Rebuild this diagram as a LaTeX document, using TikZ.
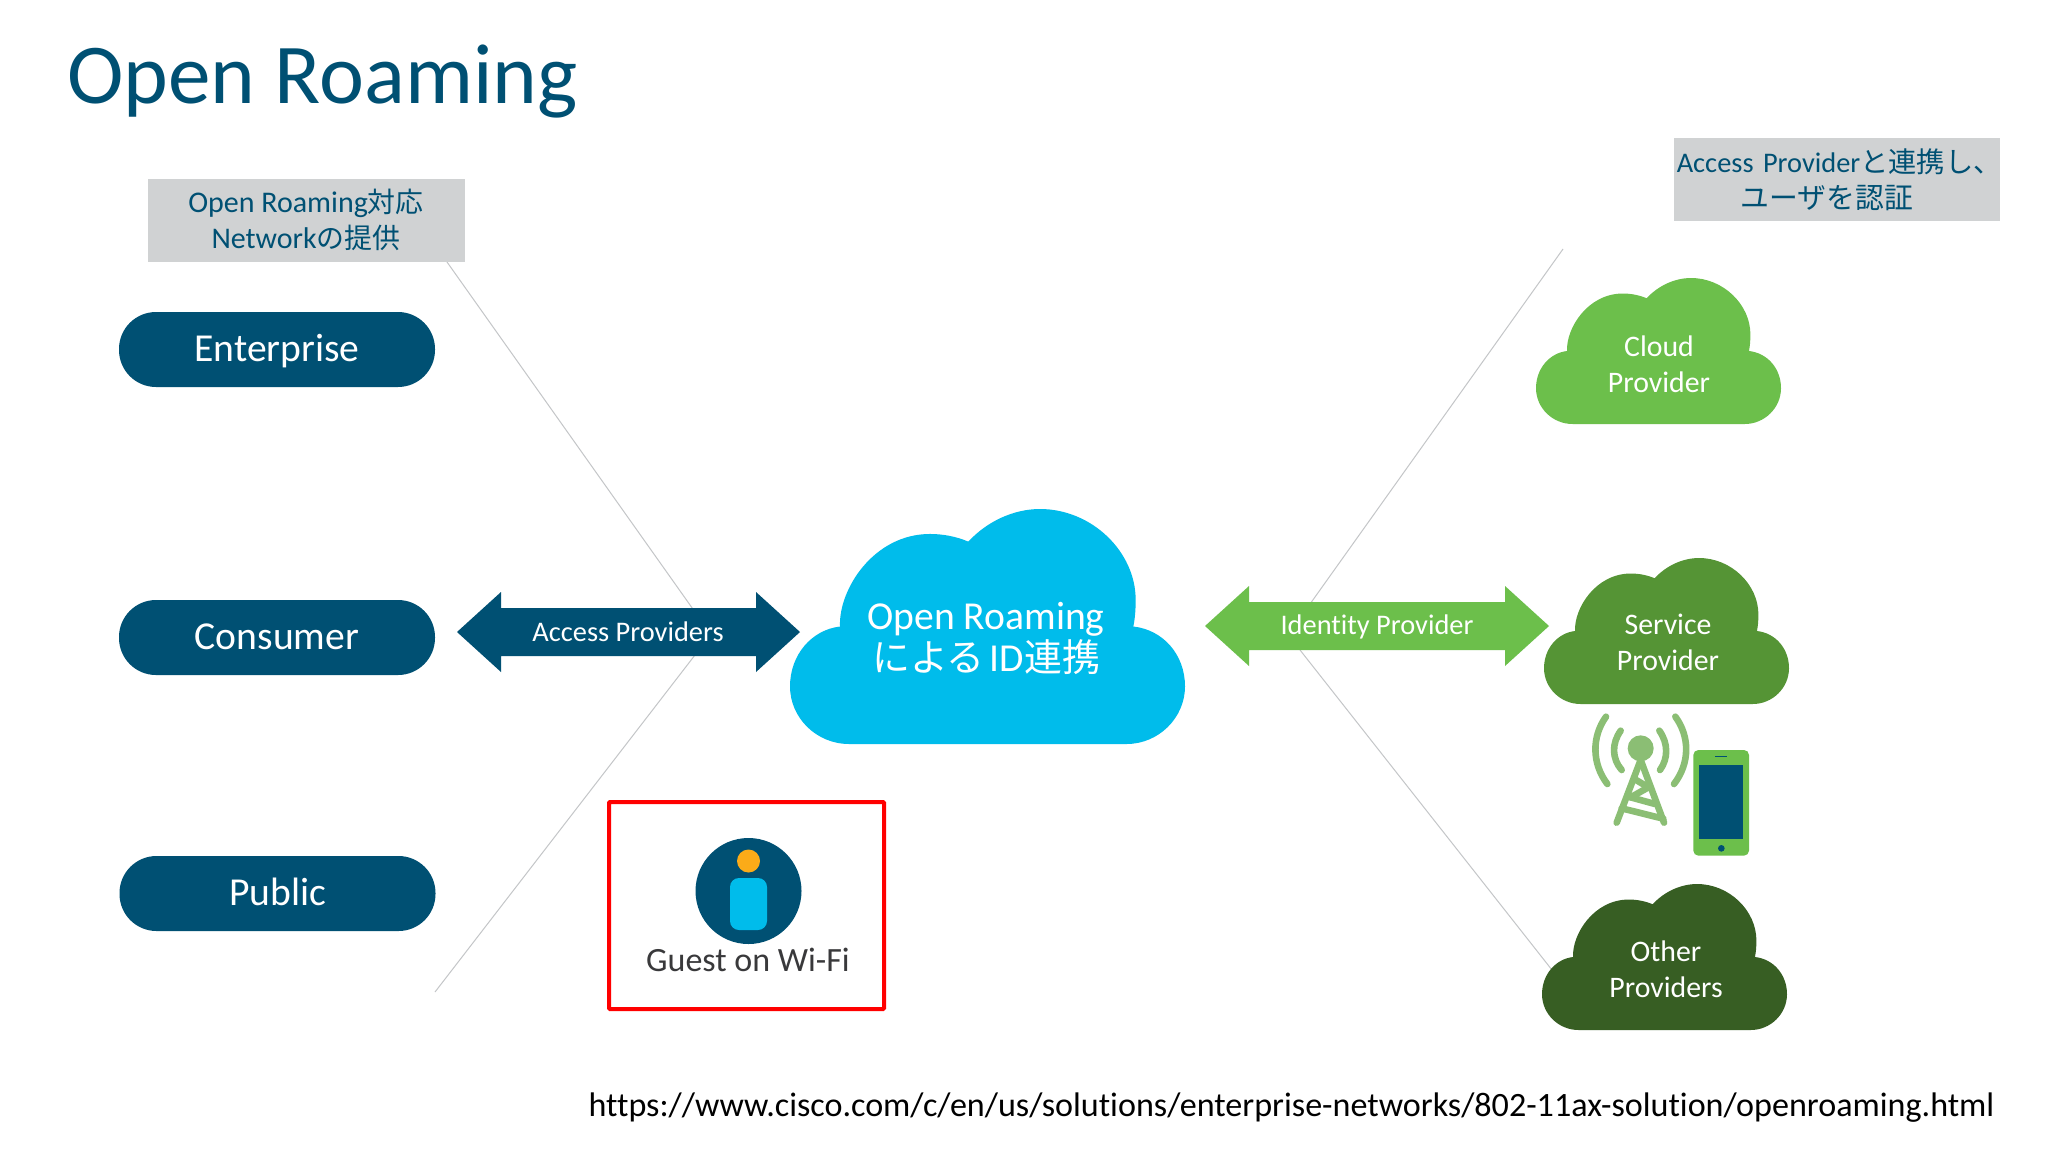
\documentclass[tikz,border=0pt]{standalone}
\usepackage{fontspec}
\setmainfont{Carlito}[Ligatures=CommonOff]
\newfontfamily\cjk{Noto Sans CJK JP}[Scale=0.93]
\definecolor{navy}{HTML}{005073}
\definecolor{sky}{HTML}{00BCEB}
\definecolor{lime}{HTML}{6CBF4B}
\definecolor{leaf}{HTML}{559435}
\definecolor{forest}{HTML}{375E23}
\definecolor{towergreen}{HTML}{8BBE74}
\definecolor{notegray}{HTML}{D0D2D3}
\definecolor{hairline}{HTML}{C4C6C8}
\definecolor{amber}{HTML}{FBAB18}
\definecolor{inkgray}{HTML}{39393B}
\newcommand{\cloudpath}{(237,763) .. controls (140,763) and (60,685) .. (60,590)
 .. controls (60,495) and (125,420) .. (210,410)
 .. controls (205,300) and (310,132) .. (480,132)
 .. controls (520,132) and (560,140) .. (595,155)
 .. controls (650,95) and (730,57) .. (810,57)
 .. controls (965,57) and (1097,185) .. (1097,330)
 .. controls (1097,360) and (1095,385) .. (1090,410)
 .. controls (1180,420) and (1245,495) .. (1245,590)
 .. controls (1245,685) and (1165,763) .. (1070,763) -- cycle}
% #1 left, #2 top, #3 width, #4 height, #5 colour
\newcommand{\cloudat}[5]{\begin{scope}[shift={(#1,#2)},xscale=#3/1185,yscale=#4/706,shift={(-60,-57)}]
 \fill[#5] \cloudpath;\end{scope}}
% #1 left tip, #2 right tip, #3 centre y, #4 colour
\newcommand{\dblarrow}[4]{\fill[#4] (#1,#3) -- ({#1+44},{#3-40}) -- ({#1+44},{#3-24}) -- ({#2-44},{#3-24}) -- ({#2-44},{#3-40}) -- (#2,#3) -- ({#2-44},{#3+40}) -- ({#2-44},{#3+24}) -- ({#1+44},{#3+24}) -- ({#1+44},{#3+40}) -- cycle;}
\tikzset{
 pill/.style={fill=navy,rounded corners=18.5pt,minimum width=158pt,minimum height=37.5pt,text=white,font=\fontsize{19.8}{20}\selectfont,inner sep=0pt,text height=15pt,text depth=3pt},
 note/.style={fill=notegray,text=navy,align=center,minimum width=158.5pt,minimum height=41.5pt,inner sep=0pt,font=\fontsize{15}{18}\selectfont},
 cloudtext/.style={text=white,align=center,inner sep=0pt,font=\fontsize{14.9}{18}\selectfont},
 arrowtext/.style={text=white,inner sep=0pt,font=\fontsize{14.2}{15}\selectfont},
 bracket/.style={draw=hairline,line width=0.5pt},
 towerline/.style={draw=towergreen,line width=3.3pt,line cap=round}
}
\begin{document}
\begin{tikzpicture}[x=0.5pt,y=-0.5pt]
\useasboundingbox (0,0) rectangle (2048,1152);
\fill[white] (0,0) rectangle (2048,1152);
\node[anchor=west,inner sep=0pt,text=navy,font=\fontsize{42.6}{44}\selectfont] (title) at (67,82) {Open Roaming};
% bracket lines
\coordinate (lt) at (447,262); \coordinate (lm1) at (695,612); \coordinate (lm2) at (695,655); \coordinate (lb) at (435,992);
\coordinate (rt) at (1563,249); \coordinate (rm1) at (1310,604); \coordinate (rm2) at (1300,650); \coordinate (rb) at (1552,970);
\draw[bracket] (lt) -- (lm1);
\draw[bracket] (lm2) -- (lb);
\draw[bracket] (rt) -- (rm1);
\draw[bracket] (rm2) -- (rb);
% notes
\node[note] (note1) at (306,220) {Open Roaming{\cjk 対応}\\Network{\cjk の提供}};
\node[note,text width=163pt,font=\fontsize{14.2}{18}\selectfont] (note2) at (1837,179.5) {\makebox[163pt]{\kern2.2pt Access Provider{\fontsize{15.2}{18}\selectfont\cjk と連携し、}}\\{\fontsize{15.5}{18}\selectfont\cjk ユーザを認証}\kern10.4pt};
% pills
\node[pill] (ent) at (277,349.5) {Enterprise};
\node[pill] (con) at (277,637.5) {Consumer};
\node[pill] (pub) at (277.5,893.5) {Public};
% arrows
\dblarrow{457}{800}{632}{navy}
\dblarrow{1205}{1549}{626}{lime}
\node[arrowtext] (ap) at (628,632) {Access Providers};
\node[arrowtext] (ip) at (1377,627) {Identity Provider};
% clouds
\cloudat{790}{509}{395}{235}{sky}
\node[text=white,align=center,inner sep=0pt,font=\fontsize{19.8}{21}\selectfont] (main) at (986,638) {Open Roaming\\{\fontsize{20.4}{21}\selectfont\cjk による}\hspace{-2pt} ID{\fontsize{20.4}{21}\selectfont\cjk 連携}};
\cloudat{1536}{278}{245}{146}{lime}
\node[cloudtext] (cp) at (1659,364) {Cloud\\Provider};
\cloudat{1544}{558}{245}{146}{leaf}
\node[cloudtext] (sp) at (1668,642) {Service\\Provider};
\cloudat{1542}{884}{245}{146}{forest}
\node[cloudtext] (op) at (1666,969) {Other\\Providers};
% tower and phone
\begin{scope}[shift={(1500,680)},x=0.5pt/3,y=-0.5pt/3]
 \draw[towerline] (318,110) .. controls (275,170) and (275,250) .. (322,312);
 \draw[towerline] (362,152) .. controls (335,190) and (335,235) .. (365,270);
 \draw[towerline] (526,110) .. controls (570,170) and (570,250) .. (522,312);
 \draw[towerline] (478,152) .. controls (505,190) and (505,235) .. (480,270);
 \draw[towerline] (422,240) -- (350,428);
 \draw[towerline] (422,240) -- (492,428);
 \draw[towerline] (365,385) -- (490,416);
 \draw[towerline] (465,372) -- (392,352);
 \draw[towerline] (392,352) -- (445,322);
 \draw[towerline] (445,322) -- (405,298);
 \fill[towergreen] (422,205) circle[radius=39];
 \fill[lime,rounded corners=2.5pt] (580,210) rectangle (747,527);
 \fill[navy] (596,256) rectangle (730,476);
 \draw[navy,line width=0.5pt] (645,230) -- (682,230);
 \fill[navy] (664,505) circle[radius=10];
\end{scope}
% guest box
\draw[red,line width=2pt,rounded corners=0.5pt] (609,802) rectangle (884,1009);
\fill[navy] (748.5,891) circle[radius=53];
\fill[amber] (748.5,861) circle[radius=11.5];
\fill[sky,rounded corners=4.5pt] (730,878) rectangle (767,930);
\node[inner sep=0pt,text=inkgray,font=\fontsize{17}{17}\selectfont] (guest) at (748,960) {Guest on Wi-Fi};
\node[anchor=east,inner sep=0pt,text=black,font=\fontsize{17.05}{18}\selectfont] (url) at (1995,1108) {https://www.cisco.com/c/en/us/solutions/enterprise-networks/802-11ax-solution/openroaming.html};
\end{tikzpicture}
\end{document}
